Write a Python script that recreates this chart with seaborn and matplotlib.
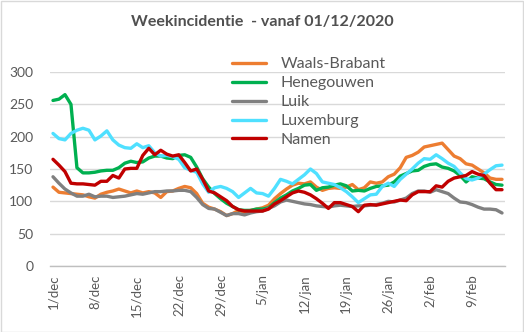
import numpy as np
import pandas as pd
import seaborn as sns
import matplotlib
matplotlib.use("Agg")
import matplotlib.pyplot as plt
from matplotlib.patches import Rectangle

# ---- data ----
tick_labels = ["1/dec", "8/dec", "15/dec", "22/dec", "29/dec", "5/jan",
               "12/jan", "19/jan", "26/jan", "2/feb", "9/feb"]
provinces = ["Waals-Brabant", "Henegouwen", "Luik", "Luxemburg", "Namen"]

waals_brabant = [122, 114, 113, 112, 111, 110, 107, 105, 111, 114, 116, 119, 116, 113, 116, 113,
                 115, 113, 106, 115, 116, 120, 123, 121, 112, 97, 91, 88, 84, 78, 81, 86,
                 83, 86, 88, 90, 94, 104, 112, 119, 125, 128, 127, 130, 122, 117, 120, 121,
                 120, 122, 126, 118, 121, 130, 128, 130, 138, 142, 152, 168, 171, 176, 184, 186,
                 188, 190, 180, 170, 166, 158, 156, 150, 144, 136, 134, 134]
henegouwen = [256, 258, 265, 250, 152, 144, 144, 145, 147, 148, 148, 152, 159, 162, 160, 161,
              167, 170, 170, 167, 166, 171, 172, 168, 153, 135, 122, 112, 104, 97, 92, 87,
              86, 86, 88, 88, 90, 98, 105, 110, 116, 120, 125, 126, 117, 121, 122, 125,
              127, 124, 116, 117, 116, 120, 123, 124, 125, 130, 139, 143, 147, 148, 154, 157,
              158, 153, 151, 147, 140, 130, 138, 136, 135, 130, 126, 125]
luik = [138, 128, 119, 113, 108, 108, 111, 107, 108, 108, 106, 107, 108, 110, 112, 111,
        113, 115, 115, 116, 116, 117, 117, 115, 106, 95, 89, 88, 83, 78, 81, 81,
        79, 82, 84, 85, 89, 93, 99, 102, 100, 98, 96, 95, 93, 92, 91, 93,
        94, 93, 92, 93, 93, 94, 95, 97, 100, 99, 102, 105, 112, 116, 116, 114,
        118, 115, 112, 105, 99, 98, 95, 91, 88, 88, 87, 82]
luxemburg = [205, 197, 195, 205, 210, 213, 210, 195, 201, 209, 195, 187, 183, 182, 189, 183,
             186, 175, 170, 171, 169, 165, 152, 148, 145, 127, 114, 121, 123, 120, 115, 106,
             113, 120, 113, 112, 108, 120, 134, 131, 127, 134, 141, 150, 143, 130, 128, 126,
             121, 115, 107, 98, 104, 110, 111, 123, 128, 123, 134, 142, 150, 159, 166, 165,
             172, 166, 159, 154, 144, 135, 133, 136, 142, 149, 155, 156]
namen = [165, 156, 146, 128, 127, 127, 126, 125, 131, 131, 140, 136, 150, 151, 151, 171,
         182, 172, 179, 173, 170, 172, 160, 147, 150, 134, 116, 113, 107, 101, 92, 87,
         85, 85, 85, 85, 88, 96, 101, 107, 113, 116, 114, 110, 104, 97, 89, 98,
         98, 95, 92, 84, 94, 95, 94, 96, 98, 100, 102, 101, 110, 115, 115, 115,
         124, 122, 131, 136, 138, 140, 146, 142, 140, 128, 118, 118]

colors = ["#ED7D31", "#00B050", "#808080", "#4FE0FF", "#C00000"]

series = [waals_brabant, henegouwen, luik, luxemburg, namen]
n = len(waals_brabant)
df = pd.concat([pd.DataFrame({"dag": np.arange(n), "waarde": s, "provincie": p})
                for p, s in zip(provinces, series)], ignore_index=True)

# ---- figure ----
sns.set_style("white")
plt.rcParams["font.family"] = ["Lato", "DejaVu Sans"]

W, H = 524, 332
fig = plt.figure(figsize=(W / 100, H / 100), dpi=100)
ax = fig.add_axes([50 / W, 1 - 266 / H, 455 / W, 194 / H])

sns.lineplot(data=df, x="dag", y="waarde", hue="provincie", hue_order=provinces,
             palette=colors, linewidth=2.4, ax=ax, legend=True)

ax.set_xlim(-0.5, n - 0.5)
ax.set_ylim(0, 300)
ax.set_yticks(range(0, 301, 50))
ax.yaxis.grid(True, color="#D9D9D9", linewidth=1)
ax.set_axisbelow(True)
for s in ["top", "right", "left"]:
    ax.spines[s].set_visible(False)
ax.spines["bottom"].set_color("#BFBFBF")
ax.spines["bottom"].set_linewidth(1)

ax.set_xticks(np.arange(0, n, 7))
ax.set_xticklabels(tick_labels, rotation=90, fontsize=9.5, color="#595959")
ax.set_xticks(np.arange(-0.5, n, 7), minor=True)
ax.tick_params(axis="x", which="major", length=0, pad=6)
ax.tick_params(axis="x", which="minor", length=4, color="#BFBFBF", width=1)
ax.tick_params(axis="y", length=0, pad=12, labelsize=10, labelcolor="#595959")
ax.set_xlabel("")
ax.set_ylabel("")

leg = ax.legend(loc="upper left", bbox_to_anchor=(232 / W, 1 - 57 / H),
                bbox_transform=fig.transFigure, frameon=False, fontsize=11.5,
                handlelength=2.1, handletextpad=0.95, labelspacing=0.3,
                borderaxespad=0, borderpad=0)
for t in leg.get_texts():
    t.set_color("#595959")
for l in leg.get_lines():
    l.set_linewidth(2.4)

fig.text(0.5, 1 - 22 / H, "Weekincidentie  - vanaf 01/12/2020", ha="center", va="center",
         fontsize=11.5, fontweight="bold", color="#505050")

fig.patches.append(Rectangle((0.5 / W, 0.5 / H), 1 - 1.5 / W, 1 - 1.5 / H,
                             transform=fig.transFigure, fill=False,
                             edgecolor="#D9D9D9", linewidth=1))

fig.savefig("out.png", dpi=100)
